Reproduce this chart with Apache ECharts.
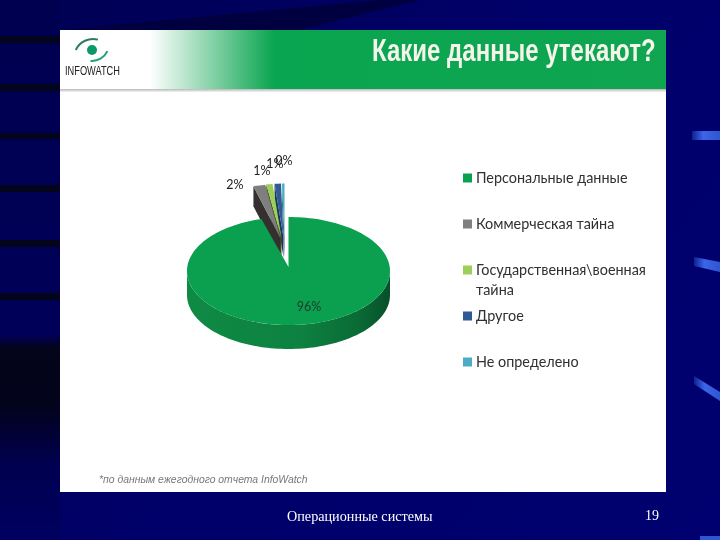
<!DOCTYPE html>
<html><head><meta charset="utf-8">
<style>html,body{margin:0;padding:0;background:#000066}#c{width:720px;height:540px}</style>
<script src="https://cdn.jsdelivr.net/npm/echarts@6/dist/echarts.min.js"></script>
</head><body><div id="c"></div>
<script>
const categories = ['Персональные данные','Коммерческая тайна','Государственная\\военная тайна','Другое','Не определено'];
const values = [95.7, 1.9, 1.0, 1.0, 0.4];
const colors = ['#0aa04f','#7f7f7f','#9bcf5a','#2f5a94','#4bacc6'];
const sideColors = ['#0c7f40','#33302f','#4a5a24','#1d3657','#2c6a7c'];
const titleText = 'Какие данные утекают?';
const footnote = '*по данным ежегодного отчета InfoWatch';
const footerText = 'Операционные системы';
const pageNumber = '19';

const P = {cx:288.5, cy:271, rx:101.5, ry:54, depth:24, wedgeDepth:20, explode:0.62, apexY:267};
const wedgeShiftX = [0,-8,-7,-5,-4];
const sliceZ = [6,5,4,3,2];
const labelAnchors = [[309,307],[235,185],[262,171],[275,164],[284,161]];
const legendTops = [168,214,240,306,352];

const total = values.reduce((a,b)=>a+b,0);
const starts = []; let acc = 0;
values.forEach(v=>{starts.push(acc); acc += v/total*360;});
const rad = d=>d*Math.PI/180;
function rim(t,ox,oy){return [P.cx+ox+P.rx*Math.sin(rad(t)), P.cy+oy-P.ry*Math.cos(rad(t))];}
function arcPts(a,b,ox,oy){const r=[];const n=Math.max(2,Math.ceil((b-a)/2));for(let i=0;i<=n;i++)r.push(rim(a+(b-a)*i/n,ox,oy));return r;}

function renderSlice(i){
  return function(params, api){
    const val = api.value(0);
    const a = starts[i], b = a + val/total*360;
    const kids = [];
    const pct = Math.round(val/total*100)+'%';
    if(i===0){
      const front = arcPts(90,270,0,0);
      const low = front.map(p=>[p[0],p[1]+P.depth]).reverse();
      kids.push({type:'polygon',shape:{points:front.concat(low)},style:{fill:{type:'linear',x:0,y:0,x2:1,y2:0,colorStops:[
        {offset:0,color:'#0f8a45'},{offset:.55,color:'#0d8240'},{offset:.85,color:'#0a6a35'},{offset:1,color:'#07502a'}]}}});
      const top=[[P.cx,P.apexY]].concat(arcPts(a,b,0,0));
      kids.push({type:'polygon',shape:{points:top},style:{fill:colors[i]}});
    } else {
      const mid=rad((a+b)/2);
      const ox=wedgeShiftX[i], oy=-P.ry*P.explode*Math.cos(mid);
      const apex=[P.cx+ox,P.cy+oy];
      const L=rim(a,ox,oy);
      kids.push({type:'polygon',shape:{points:[apex,L,[L[0],L[1]+P.wedgeDepth],[apex[0],apex[1]+P.wedgeDepth]]},style:{fill:sideColors[i]}});
      kids.push({type:'polygon',shape:{points:[apex].concat(arcPts(a,b,ox,oy))},style:{fill:colors[i]}});
    }
    kids.push({type:'text',z2:10,style:{text:pct,x:labelAnchors[i][0],y:labelAnchors[i][1],align:'center',verticalAlign:'middle',
      font:'12.5px Lato, "Open Sans", sans-serif',fill:i===0?'#1f3a2a':'#222'}});
    return {type:'group',children:kids};
  };
}

const series = categories.map((name,i)=>({
  type:'custom',name,coordinateSystem:'none',silent:true,z:sliceZ[i],
  itemStyle:{color:colors[i]},data:[[values[i]]],renderItem:renderSlice(i),encode:{value:0}
}));
const legend = categories.map((name,i)=>({
  data:[{name,icon:'rect'}],left:463,top:legendTops[i],orient:'vertical',padding:0,itemWidth:9,itemHeight:9,itemGap:0,
  selectedMode:false,
  formatter:n=>n.indexOf('\\')>=0?'\n'+n.replace(' ','\n'):n,
  textStyle:{fontFamily:'Lato, "Open Sans", sans-serif',fontSize:14.4,color:'#303030',lineHeight:20,padding:[0,0,0,-1]}
}));

const bars=[[36,7],[84,7],[133,6],[185,7],[240,7],[293,7]];
const stroke={type:'linear',x:0,y:0,x2:1,y2:0,colorStops:[{offset:0,color:'#102090'},{offset:.4,color:'#3a66e8'},{offset:1,color:'#2f55d0'}]};
const g=[];
g.push({type:'rect',shape:{x:0,y:0,width:720,height:540},style:{fill:{type:'linear',x:0,y:0,x2:1,y2:1,colorStops:[{offset:0,color:'#000052'},{offset:.5,color:'#00006a'},{offset:1,color:'#000070'}]}}});
g.push({type:'rect',shape:{x:0,y:0,width:60,height:540},style:{fill:{type:'linear',x:0,y:0,x2:0,y2:1,colorStops:[{offset:0,color:'#000050'},{offset:.62,color:'#000058'},{offset:.645,color:'#04041a'},{offset:.75,color:'#03031c'},{offset:.86,color:'#000050'},{offset:1,color:'#000060'}]}}});
bars.forEach(b=>g.push({type:'rect',shape:{x:0,y:b[0],width:60,height:b[1]},style:{fill:'#04041c'}}));
g.push({type:'polygon',shape:{points:[[60,30],[380,0],[420,0],[300,30]]},style:{fill:'#000040'}});
g.push({type:'polygon',shape:{points:[[692,131],[720,131],[720,140],[692,140]]},style:{fill:stroke}});
g.push({type:'polygon',shape:{points:[[694,257],[720,262],[720,272],[694,266]]},style:{fill:stroke}});
g.push({type:'polygon',shape:{points:[[694,376],[720,392],[720,401],[694,384]]},style:{fill:stroke}});
g.push({type:'rect',shape:{x:700,y:536,width:20,height:4},style:{fill:'#2f55d0'}});
g.push({type:'rect',shape:{x:60,y:30,width:606,height:462},style:{fill:'#ffffff'}});
g.push({type:'rect',shape:{x:60,y:89,width:606,height:3},style:{fill:{type:'linear',x:0,y:0,x2:0,y2:1,colorStops:[{offset:0,color:'#b8b8b8'},{offset:1,color:'#f4f4f4'}]}}});
g.push({type:'rect',shape:{x:150,y:30,width:516,height:59},style:{fill:{type:'linear',x:0,y:0,x2:1,y2:0,colorStops:[{offset:0,color:'#ffffff'},{offset:.24,color:'#0aa550'},{offset:1,color:'#0fa551'}]}}});
g.push({type:'circle',shape:{cx:92,cy:50,r:5},style:{fill:'#0a9a68'}});
g.push({type:'arc',shape:{cx:93,cy:58,r:19,startAngle:rad(205),endAngle:rad(285)},style:{stroke:'#2e7a62',fill:null,lineWidth:2}});
g.push({type:'arc',shape:{cx:92,cy:44,r:17,startAngle:rad(25),endAngle:rad(95)},style:{stroke:'#1fa07a',fill:null,lineWidth:2}});
g.push({type:'text',x:65,y:72,scaleX:0.77,style:{text:'INFOWATCH',x:0,y:0,verticalAlign:'middle',font:'12px "Liberation Sans", Arial',fill:'#222'}});
g.push({type:'text',x:372,y:52,scaleX:0.75,style:{text:titleText,x:0,y:0,verticalAlign:'middle',font:'bold 32px "Liberation Sans", Arial',fill:'#f4f4ea'}});
g.push({type:'text',style:{text:footnote,x:99,y:480,verticalAlign:'middle',font:'italic 10.4px "Liberation Sans", Arial',fill:'#777'}});
g.push({type:'text',style:{text:footerText,x:287,y:517,verticalAlign:'middle',font:'14.2px "Liberation Serif", serif',fill:'#fff'}});
g.push({type:'text',style:{text:pageNumber,x:645,y:516,verticalAlign:'middle',font:'14px "Liberation Serif", serif',fill:'#fff'}});
g.forEach(x=>{x.silent=true;x.z=-10;});

const chart=echarts.init(document.getElementById('c'),null,{renderer:'canvas'});
chart.setOption({animation:false,backgroundColor:'#000066',graphic:{elements:g},legend,series});
</script></body></html>
